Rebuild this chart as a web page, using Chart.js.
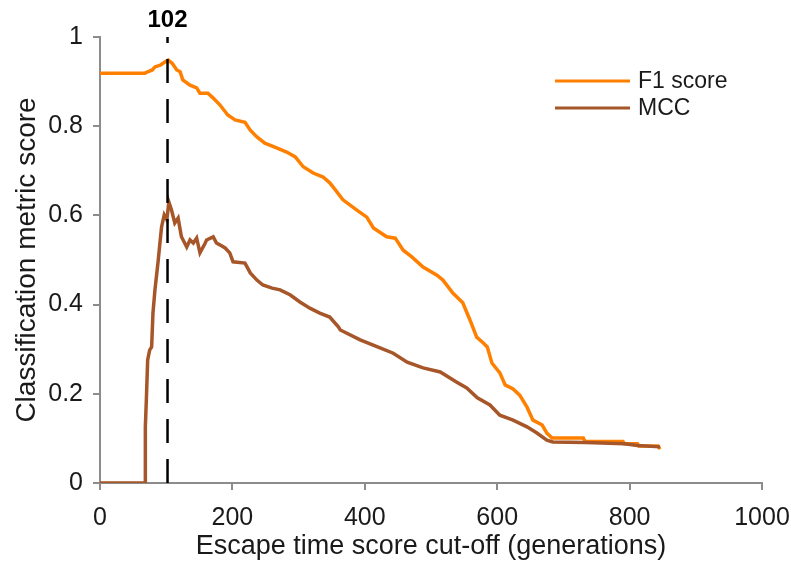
<!DOCTYPE html>
<html>
<head>
<meta charset="utf-8">
<script src="https://cdn.jsdelivr.net/npm/chart.js@4/dist/chart.umd.min.js"></script>
<style>
  html, body { margin: 0; padding: 0; background: #fff; }
  #wrap { width: 791px; height: 563px; }
</style>
</head>
<body>
<div id="wrap"><canvas id="chart" width="791" height="563"></canvas></div>
<script>
// Series
const f1X = [0, 68, 72, 79, 83, 91, 98, 103, 109, 116, 121, 125, 136, 146, 151, 163, 171, 181, 193, 204,
  219, 227, 237, 249, 264, 282, 295, 307, 322, 337, 347, 352, 367, 388, 403, 413, 433, 446, 458, 471,
  488, 509, 518, 533, 548, 559, 569, 579, 585, 592, 604, 612, 624, 634, 645, 654, 668, 675, 683, 730,
  733, 790, 792, 812, 814, 843, 846];
const f1Y = [0.919, 0.919, 0.922, 0.926, 0.933, 0.937, 0.944, 0.948, 0.941, 0.926, 0.922, 0.904, 0.892, 0.886, 0.874, 0.874, 0.863, 0.848, 0.825, 0.814,
  0.809, 0.791, 0.776, 0.762, 0.753, 0.742, 0.731, 0.709, 0.695, 0.686, 0.673, 0.664, 0.635, 0.612, 0.596, 0.572, 0.552, 0.549, 0.522, 0.507,
  0.484, 0.466, 0.455, 0.426, 0.404, 0.365, 0.327, 0.314, 0.305, 0.269, 0.247, 0.220, 0.211, 0.197, 0.170, 0.141, 0.130, 0.112, 0.101, 0.101,
  0.093, 0.093, 0.088, 0.088, 0.083, 0.083, 0.076];

const mccX = [0, 68, 68.5, 70, 72, 75, 78, 80, 83, 86, 88, 91, 93, 97, 101, 104, 108, 113, 118, 123,
  131, 136, 141, 146, 151, 159, 161, 171, 176, 181, 189, 196, 201, 219, 227, 237, 246, 260, 272, 287,
  302, 317, 332, 347, 360, 363, 393, 423, 443, 464, 488, 514, 539, 554, 570, 589, 604, 624, 645, 660,
  675, 684, 733, 792, 812, 846];
const mccY = [0, 0, 0.126, 0.186, 0.276, 0.298, 0.305, 0.381, 0.433, 0.473, 0.500, 0.545, 0.574, 0.601, 0.590, 0.630, 0.612, 0.583, 0.594, 0.552,
  0.529, 0.545, 0.538, 0.549, 0.516, 0.538, 0.545, 0.552, 0.538, 0.534, 0.527, 0.516, 0.496, 0.493, 0.471, 0.455, 0.444, 0.437, 0.433, 0.422,
  0.406, 0.392, 0.381, 0.372, 0.350, 0.343, 0.321, 0.303, 0.291, 0.271, 0.258, 0.249, 0.226, 0.213, 0.191, 0.175, 0.152, 0.141, 0.126, 0.112,
  0.096, 0.092, 0.091, 0.088, 0.084, 0.081];

const cutoff = 102;
const yTicks = [0, 0.2, 0.4, 0.6, 0.8, 1];
const xTicks = [0, 200, 400, 600, 800, 1000];

const axisGrey = '#8c8c8c';
const textColor = '#1a1a1a';
const fontFamily = '"Liberation Sans", Arial, sans-serif';

function toPoints(xs, ys) {
  return xs.map((x, i) => ({ x: x, y: ys[i] }));
}

// Legend drawn inside the plot, top right
const legendPlugin = {
  id: 'insideLegend',
  afterDraw(chart) {
    const ctx = chart.ctx;
    const area = chart.chartArea;
    const items = chart.data.datasets.filter(d => !d.hideInLegend);
    ctx.save();
    ctx.font = '23px ' + fontFamily;
    ctx.textBaseline = 'middle';
    items.forEach((ds, i) => {
      const y = area.top + 44 + i * 27;
      const x0 = area.right - 207;
      ctx.strokeStyle = ds.borderColor;
      ctx.lineWidth = 3;
      ctx.beginPath();
      ctx.moveTo(x0, y);
      ctx.lineTo(x0 + 75, y);
      ctx.stroke();
      ctx.fillStyle = textColor;
      ctx.fillText(ds.label, x0 + 83, y + 1);
    });
    ctx.restore();
  }
};

// Label above the dashed cut-off line
const cutoffLabel = {
  id: 'cutoffLabel',
  afterDraw(chart) {
    const ctx = chart.ctx;
    const x = chart.scales.x.getPixelForValue(cutoff);
    const y = chart.scales.y.getPixelForValue(1);
    ctx.save();
    ctx.font = 'bold 24px ' + fontFamily;
    ctx.fillStyle = '#000';
    ctx.textAlign = 'center';
    ctx.textBaseline = 'middle';
    ctx.fillText(String(cutoff), x, y - 17);
    ctx.restore();
  }
};

new Chart(document.getElementById('chart'), {
  type: 'line',
  data: {
    datasets: [
      {
        label: 'F1 score',
        data: toPoints(f1X, f1Y),
        borderColor: '#ff8000',
        borderWidth: 3.5,
        pointRadius: 0,
        tension: 0,
        order: 2
      },
      {
        label: 'MCC',
        data: toPoints(mccX, mccY),
        borderColor: '#a65628',
        borderWidth: 3.5,
        pointRadius: 0,
        tension: 0,
        order: 1
      },
      {
        label: 'cut-off',
        hideInLegend: true,
        data: [{ x: cutoff, y: 0 }, { x: cutoff, y: 1 }],
        borderColor: '#000',
        borderWidth: 2.5,
        borderDash: [24, 16],
        pointRadius: 0,
        order: 0
      }
    ]
  },
  options: {
    responsive: false,
    animation: false,
    devicePixelRatio: 1,
    layout: { padding: { top: 37, right: 29, left: 0, bottom: 0 } },
    plugins: {
      legend: { display: false },
      tooltip: { enabled: false }
    },
    scales: {
      x: {
        type: 'linear',
        min: 0,
        max: 1000,
        afterBuildTicks: (scale) => { scale.ticks = xTicks.map(v => ({ value: v })); },
        afterFit: (scale) => { scale.height = 80; scale.paddingRight = 0; },
        border: { display: true, color: axisGrey, width: 2 },
        grid: { display: true, drawOnChartArea: false, drawTicks: true, tickLength: 7, color: axisGrey, lineWidth: 2 },
        ticks: { color: textColor, padding: 13, font: { family: fontFamily, size: 25 }, maxRotation: 0,
          callback: (v) => String(v) },
        title: {
          display: true,
          text: 'Escape time score cut-off (generations)',
          color: textColor,
          font: { family: fontFamily, size: 27 },
          padding: { top: 0, bottom: 0 }
        }
      },
      y: {
        type: 'linear',
        min: 0,
        max: 1,
        afterBuildTicks: (scale) => { scale.ticks = yTicks.map(v => ({ value: v })); },
        afterFit: (scale) => { scale.width = 100; },
        border: { display: true, color: axisGrey, width: 2 },
        grid: { display: true, drawOnChartArea: false, drawTicks: true, tickLength: 7, color: axisGrey, lineWidth: 2 },
        ticks: { color: textColor, padding: 10, font: { family: fontFamily, size: 25 },
          callback: (v) => String(v) },
        title: {
          display: true,
          text: 'Classification metric score',
          color: textColor,
          font: { family: fontFamily, size: 28 },
          padding: { top: 10, bottom: 0 }
        }
      }
    }
  },
  plugins: [legendPlugin, cutoffLabel]
});
</script>
</body>
</html>
